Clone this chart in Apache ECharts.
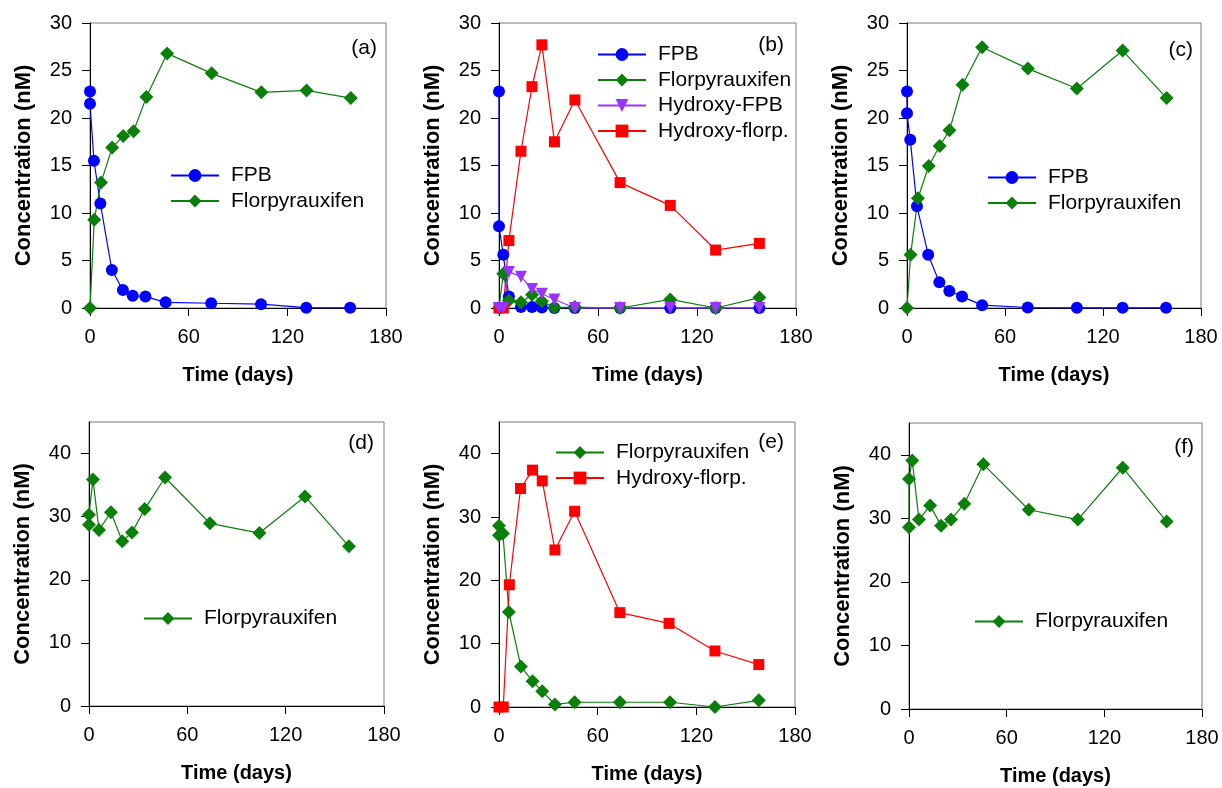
<!DOCTYPE html>
<html>
<head>
<meta charset="utf-8">
<script src="https://cdn.jsdelivr.net/npm/echarts@6/dist/echarts.min.js"></script>
<style>html,body{margin:0;padding:0;background:#fff;}#c{width:1222px;height:788px;}</style>
</head>
<body>
<div id="c"></div>
<script>
// ---------- data ----------
const timeTicks = [0, 60, 120, 180];
const concTicksTop = [0, 5, 10, 15, 20, 25, 30];
const concTicksBottom = [0, 10, 20, 30, 40];
const panelLabels = ['(a)', '(b)', '(c)', '(d)', '(e)', '(f)'];

// (a)
const aFpbT = [0, 0, 2.4, 6.3, 13.3, 20, 26, 33.7, 46, 73.7, 104, 131.5, 158.2];
const aFpbY = [22.8, 21.5, 15.5, 11.0, 4.0, 1.9, 1.3, 1.2, 0.6, 0.5, 0.4, 0.03, 0.02];
const aFloT = [0, 2.6, 6.7, 13.5, 20.2, 26.5, 34.3, 46.9, 74, 104.2, 131.7, 158.6];
const aFloY = [0, 9.3, 13.2, 16.9, 18.1, 18.6, 22.2, 26.8, 24.7, 22.7, 22.9, 22.1];

// (b)
const bFpbT = [0, 0, 2.6, 6, 13.3, 20, 26, 33.6, 46, 73.4, 103.8, 131.3, 157.8];
const bFpbY = [22.8, 8.6, 5.6, 1.2, 0.1, 0.1, 0.05, 0, 0, 0, 0, 0, 0];
const bFloT = [0, 2.6, 6, 13.3, 20, 26, 33.6, 46, 73.4, 103.8, 131.3, 157.8];
const bFloY = [0, 3.6, 0.8, 0.6, 1.4, 0.7, 0.05, 0.1, 0, 0.9, 0, 1.1];
const bHfpbT = [0, 2.6, 6, 13.3, 20, 26, 33.6, 46, 73.4, 103.8, 131.3, 157.8];
const bHfpbY = [0, 0, 3.8, 3.3, 2.0, 1.5, 0.9, 0, 0, 0, 0, 0];
const bHfloT = [0, 2.6, 6, 13.3, 20, 26, 33.6, 46, 73.4, 103.8, 131.3, 157.8];
const bHfloY = [0, 0, 7.1, 16.5, 23.3, 27.7, 17.5, 21.9, 13.2, 10.8, 6.1, 6.8];

// (c)
const cFpbT = [0, 0, 2, 6.1, 13, 19.8, 25.9, 33.7, 46, 73.9, 104, 132, 158.6];
const cFpbY = [22.8, 20.5, 17.7, 10.7, 5.6, 2.7, 1.8, 1.2, 0.3, 0.05, 0.02, 0.02, 0.02];
const cFloT = [0, 2.2, 6.7, 13.3, 20, 26, 34, 46, 74, 104, 132, 159];
const cFloY = [0, 5.6, 11.55, 14.95, 17.05, 18.7, 23.5, 27.45, 25.2, 23.1, 27.1, 22.1];

// (d)
const dFloT = [0, 0, 2.4, 6.1, 13.4, 20.3, 26.2, 34, 46.4, 73.8, 104, 131.8, 158.6];
const dFloY = [28.7, 30.3, 35.9, 27.9, 30.7, 26.1, 27.5, 31.2, 36.2, 28.95, 27.4, 33.2, 25.3];

// (e)
const eFloT = [0, 0, 2.4, 6, 13.3, 20.4, 26.3, 34, 46, 73.5, 104, 131.3, 158];
const eFloY = [28.6, 27.1, 27.4, 15.0, 6.4, 4.05, 2.5, 0.4, 0.75, 0.75, 0.75, 0, 1.05];
const eHfloT = [0, 2.6, 6.3, 13.1, 20.4, 26.3, 34, 46, 73.5, 103.4, 131.3, 158];
const eHfloY = [0, 0, 19.3, 34.5, 37.4, 35.7, 24.8, 30.9, 14.9, 13.2, 8.85, 6.7];

// (f)
const fFloT = [0, 0, 2, 6.1, 13, 19.7, 25.8, 34, 45.7, 73.6, 103.7, 131.3, 158.3];
const fFloY = [28.6, 36.2, 39.1, 29.8, 32.0, 28.85, 29.8, 32.3, 38.5, 31.35, 29.8, 37.96, 29.5];

// ---------- build ----------
const FONT = '"Liberation Sans", Arial, sans-serif';
const pairs = (xs, ys) => xs.map((x, i) => [x, ys[i]]);

const grids = [
  {left: 90, top: 23, width: 296, height: 285},
  {left: 499, top: 23, width: 297, height: 285},
  {left: 907, top: 23, width: 294, height: 285},
  {left: 89, top: 422, width: 295, height: 284},
  {left: 499, top: 422, width: 296, height: 285},
  {left: 909, top: 423, width: 293, height: 286}
].map(g => Object.assign(g, {show: true, borderColor: '#7a7a7a', borderWidth: 1, backgroundColor: 'transparent', outerBoundsMode: 'none', containLabel: false}));

const xAxes = grids.map((g, i) => ({
  type: 'value', gridIndex: i, min: 0, max: 180, interval: 60,
  name: 'Time (days)', nameLocation: 'middle', nameGap: 57, nameMoveOverlap: false,
  nameTextStyle: {fontFamily: FONT, fontSize: 20, fontWeight: 'bold', color: '#000'},
  axisLine: {show: true, onZero: false, lineStyle: {color: '#000', width: 1}},
  axisTick: {show: true, inside: false, length: 8, lineStyle: {color: '#000'}, customValues: timeTicks},
  axisLabel: {fontFamily: FONT, fontSize: 20, color: '#000', margin: 19, customValues: timeTicks},
  splitLine: {show: false}
}));

const yAxes = grids.map((g, i) => {
  const top = i < 3;
  const ticks = top ? concTicksTop : concTicksBottom;
  return {
    type: 'value', gridIndex: i, min: 0, max: top ? 30 : 45, interval: top ? 5 : 10,
    name: 'Concentration (nM)', nameLocation: 'middle', nameGap: 55, nameMoveOverlap: false,
    nameTextStyle: {fontFamily: FONT, fontSize: 22, fontWeight: 'bold', color: '#000'},
    axisLine: {show: true, onZero: false, lineStyle: {color: '#000', width: 1}},
    axisTick: {show: true, inside: false, length: 8, lineStyle: {color: '#000'}, customValues: ticks},
    axisLabel: {fontFamily: FONT, fontSize: 20, color: '#000', margin: 18, customValues: ticks},
    splitLine: {show: false}
  };
});

const STY = {
  'FPB': {color: '#0000ff', symbol: 'circle', size: 12, rotate: 0},
  'Florpyrauxifen': {color: '#0a7f0a', symbol: 'diamond', size: 14, rotate: 0},
  'Hydroxy-FPB': {color: '#9933ff', symbol: 'triangle', size: 12, rotate: 180},
  'Hydroxy-florp.': {color: '#ff0000', symbol: 'rect', size: 11, rotate: 0}
};
function mk(name, idx, xs, ys, z) {
  const s = STY[name];
  return {
    type: 'line', name: name, xAxisIndex: idx, yAxisIndex: idx,
    data: pairs(xs, ys), symbol: s.symbol, symbolSize: s.size, symbolRotate: s.rotate,
    showAllSymbol: true, clip: false, z: z || 2,
    lineStyle: {color: s.color, width: 1.2},
    itemStyle: {color: s.color, borderWidth: 0},
    emphasis: {disabled: true}, animation: false
  };
}

const series = [
  mk('FPB', 0, aFpbT, aFpbY),
  mk('Florpyrauxifen', 0, aFloT, aFloY),
  mk('FPB', 1, bFpbT, bFpbY),
  mk('Florpyrauxifen', 1, bFloT, bFloY),
  mk('Hydroxy-florp.', 1, bHfloT, bHfloY),
  mk('Hydroxy-FPB', 1, bHfpbT, bHfpbY),
  mk('FPB', 2, cFpbT, cFpbY),
  mk('Florpyrauxifen', 2, cFloT, cFloY),
  mk('Florpyrauxifen', 3, dFloT, dFloY),
  mk('Florpyrauxifen', 4, eFloT, eFloY),
  mk('Hydroxy-florp.', 4, eHfloT, eHfloY),
  mk('Florpyrauxifen', 5, fFloT, fFloY)
];

function lg(names, left, top) {
  return {
    data: names, left: left, top: top, orient: 'vertical',
    itemWidth: 48, itemHeight: 16, itemGap: 4.5, padding: 0,
    selectedMode: false,
    textStyle: {fontFamily: FONT, fontSize: 21, color: '#000', lineHeight: 20, padding: [0, 0, 0, 7]}
  };
}
const legends = [
  lg(['FPB', 'Florpyrauxifen'], 170, 165),
  lg(['FPB', 'Florpyrauxifen', 'Hydroxy-FPB', 'Hydroxy-florp.'], 597, 44),
  lg(['FPB', 'Florpyrauxifen'], 987, 167),
  lg(['Florpyrauxifen'], 143, 608),
  lg(['Florpyrauxifen', 'Hydroxy-florp.'], 555, 442),
  lg(['Florpyrauxifen'], 974, 611)
];

const labelPos = [[377, 48], [784, 45], [1193, 50], [374, 443], [784, 442], [1194, 447]];
const graphics = labelPos.map((p, i) => ({
  type: 'text', x: p[0], y: p[1], silent: true,
  style: {text: panelLabels[i], fontFamily: FONT, fontSize: 21, fill: '#000', align: 'right', verticalAlign: 'middle'}
}));

const chart = echarts.init(document.getElementById('c'), null, {renderer: 'canvas'});
chart.setOption({
  backgroundColor: '#fff',
  animation: false,
  grid: grids, xAxis: xAxes, yAxis: yAxes,
  legend: legends, series: series, graphic: graphics,
  tooltip: {show: false}
});
</script>
</body>
</html>
